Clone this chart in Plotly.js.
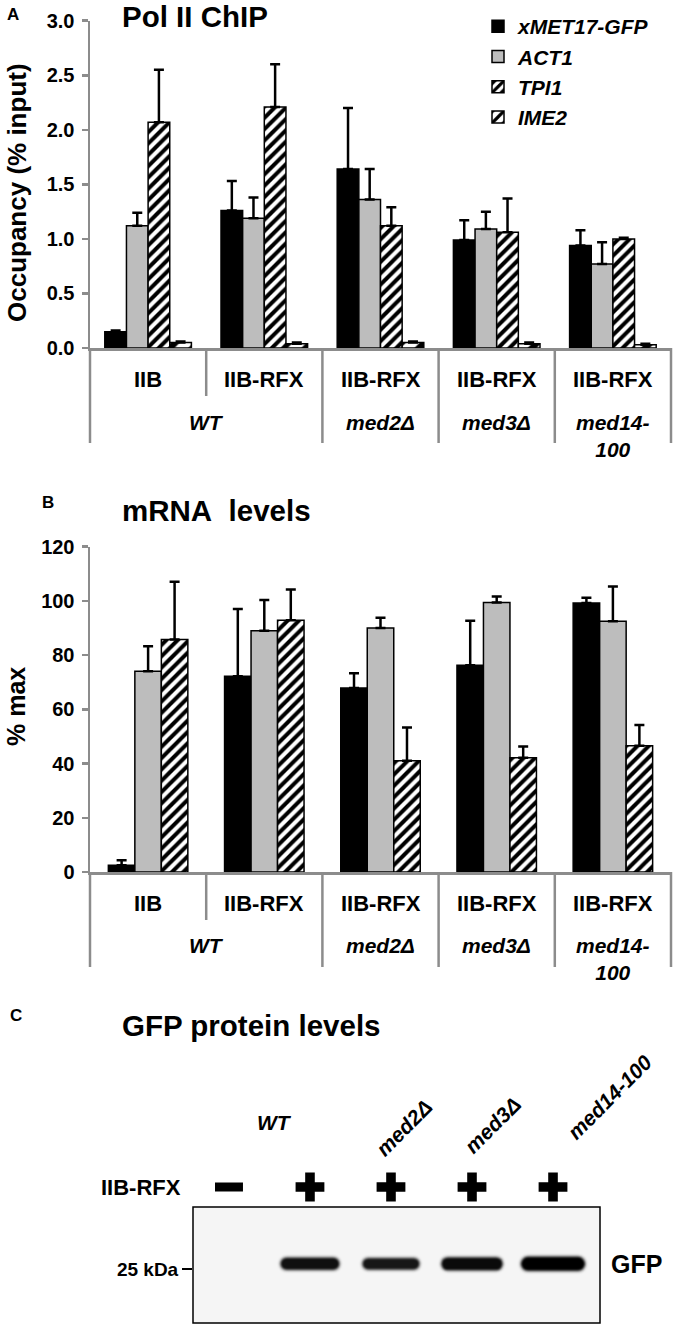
<!DOCTYPE html>
<html><head><meta charset="utf-8">
<script src="https://cdn.plot.ly/plotly-3.0.1.min.js"></script>
<style>
html,body{margin:0;padding:0;background:#fff}
#chart{width:674px;height:1325px}
.scatterlayer path.js-line{stroke-linecap:round;filter:blur(1.1px)}
</style>
</head><body><div id="chart"></div>
<script>
// ---------------- data ----------------
const promoters = ['IIB', 'IIB-RFX', 'IIB-RFX', 'IIB-RFX', 'IIB-RFX'];
const strains = ['WT', 'med2Δ', 'med3Δ', 'med14-<br>100'];
const strainSpan = [2, 1, 1, 1];
const genes = ['xMET17-GFP', 'ACT1', 'TPI1', 'IME2'];

// Panel A: Pol II ChIP, occupancy (% input)
const chipMET17    = [0.15, 1.26, 1.64, 0.99, 0.94];
const chipMET17Err = [0.01, 0.27, 0.56, 0.18, 0.14];
const chipACT1     = [1.12, 1.19, 1.36, 1.09, 0.77];
const chipACT1Err  = [0.12, 0.19, 0.28, 0.16, 0.20];
const chipTPI1     = [2.07, 2.21, 1.12, 1.06, 1.00];
const chipTPI1Err  = [0.48, 0.39, 0.17, 0.31, 0.01];
const chipIME2     = [0.05, 0.04, 0.05, 0.04, 0.03];
const chipIME2Err  = [0.01, 0.01, 0.01, 0.01, 0.01];

// Panel B: mRNA levels, % max
const mrnaMET17    = [2.5, 72.2, 67.9, 76.3, 99.2];
const mrnaMET17Err = [1.8, 24.8, 5.4, 16.4, 2.0];
const mrnaACT1     = [74.1, 89.0, 90.0, 99.4, 92.5];
const mrnaACT1Err  = [9.2, 11.3, 3.8, 2.2, 12.8];
const mrnaTPI1     = [85.8, 92.9, 41.0, 42.1, 46.6];
const mrnaTPI1Err  = [21.3, 11.3, 12.3, 4.2, 7.6];

// Panel C: GFP western blot
const lanes = [1, 2, 3, 4, 5];
const laneRFX = ['-', '+', '+', '+', '+'];
const laneStrain = ['WT', 'WT', 'med2Δ', 'med3Δ', 'med14-100'];
const gfpSignal = [0, 0.78, 0.70, 0.88, 1.0];

// ---------------- helpers ----------------
const W = 674, H = 1325;
const px = v => v / W;
const py = v => 1 - v / H;
const FONT = 'Liberation Sans, Arial, Helvetica, sans-serif';
const AX = '#8c8c8c';

const seriesStyle = [
  {color: '#000000'},
  {color: '#bdbdbd'},
  {color: '#ffffff', pattern: {shape: '/', fgcolor: '#000', bgcolor: '#fff', size: 8, solidity: 0.5, fillmode: 'replace'}},
  {color: '#ffffff', pattern: {shape: '/', fgcolor: '#000', bgcolor: '#fff', size: 16, solidity: 0.4, fillmode: 'replace'}}
];

const traces = [];
function addBars(vals, errs, xa, ya, w, legend) {
  const n = vals.length;
  vals.forEach((v, i) => {
    const st = seriesStyle[i];
    const marker = {color: st.color, line: {color: '#000', width: 1.5}};
    if (st.pattern) marker.pattern = st.pattern;
    traces.push({
      type: 'bar', name: genes[i], x: promoters.map((_, k) => k), y: v,
      xaxis: xa, yaxis: ya, width: w, offset: (i - n / 2) * w,
      marker: marker, showlegend: legend, hoverinfo: 'skip',
      error_y: {type: 'data', symmetric: false, array: errs[i], arrayminus: errs[i].map(() => 0),
                color: '#000', thickness: 2.5, width: 5}
    });
  });
}
addBars([chipMET17, chipACT1, chipTPI1, chipIME2], [chipMET17Err, chipACT1Err, chipTPI1Err, chipIME2Err], 'x', 'y', 0.1863, true);
addBars([mrnaMET17, mrnaACT1, mrnaTPI1], [mrnaMET17Err, mrnaACT1Err, mrnaTPI1Err], 'x2', 'y2', 0.228, false);

// blot bands
const bandY = 0.51;
lanes.forEach((L, i) => {
  const s = gfpSignal[i];
  if (!s) return;
  const t = 5 + 9 * s;
  const hw = ((40 + 24 * s) / 2 - t / 2) / 81;
  traces.push({type: 'scatter', mode: 'lines', x: [L - hw, L + hw], y: [bandY, bandY], xaxis: 'x3', yaxis: 'y3',
    line: {color: 'rgba(0,0,0,0.2)', width: t + 4}, showlegend: false, hoverinfo: 'skip'});
  traces.push({type: 'scatter', mode: 'lines', x: [L - hw, L + hw], y: [bandY, bandY], xaxis: 'x3', yaxis: 'y3',
    line: {color: 'rgba(0,0,0,' + (0.62 + 0.38 * s).toFixed(2) + ')', width: t}, showlegend: false, hoverinfo: 'skip'});
});
// +/- signs (own row axis y4 above the blot)
const plusLanes = lanes.filter((_, i) => laneRFX[i] === '+');
const minusLanes = lanes.filter((_, i) => laneRFX[i] === '-');
traces.push({type: 'scatter', mode: 'markers', x: plusLanes, y: plusLanes.map(() => 0.5), xaxis: 'x3', yaxis: 'y4',
  cliponaxis: false, marker: {symbol: 'cross', size: 24, color: '#000', line: {width: 0}}, showlegend: false, hoverinfo: 'skip'});
traces.push({type: 'scatter', mode: 'markers', x: minusLanes, y: minusLanes.map(() => 0.5), xaxis: 'x3', yaxis: 'y4',
  cliponaxis: false, marker: {symbol: 'line-ew', size: 20, color: '#000', line: {width: 9, color: '#000'}}, showlegend: false, hoverinfo: 'skip'});

// ---------------- layout ----------------
const shapes = [];
const ann = [];
const boldFont = (size, italic) => ({family: FONT, size: size, color: '#000', weight: 700, style: italic ? 'italic' : 'normal'});

function categoryDecor(xa, axisY) {
  const n = promoters.length;
  const strainOf = [];
  strainSpan.forEach((sp, j) => { for (let t = 0; t < sp; t++) strainOf.push(j); });
  for (let k = 0; k <= n; k++) {
    const long = k === 0 || k === n || strainOf[k - 1] !== strainOf[k];
    shapes.push({type: 'line', xref: xa + ' domain', yref: 'paper', x0: k / n, x1: k / n,
      y0: py(axisY), y1: py(axisY + (long ? 95 : 48)), line: {color: AX, width: 2.5}});
  }
  promoters.forEach((p, k) => ann.push({xref: xa, yref: 'paper', x: k, y: py(axisY + 31), text: p,
    showarrow: false, xanchor: 'center', yanchor: 'middle', font: boldFont(22, false)}));
  let start = 0;
  strains.forEach((s, j) => {
    const sp = strainSpan[j];
    ann.push({xref: xa, yref: 'paper', x: start + (sp - 1) / 2, y: py(axisY + 75 - 14.5), text: s,
      showarrow: false, xanchor: 'center', yanchor: 'top', font: boldFont(21, true)});
    start += sp;
  });
}
categoryDecor('x', 348);
categoryDecor('x2', 872);

// panel letters, titles, axis titles
ann.push({xref: 'paper', yref: 'paper', x: px(5), y: py(14), text: 'A', showarrow: false, xanchor: 'left', yanchor: 'middle', font: boldFont(17)});
ann.push({xref: 'paper', yref: 'paper', x: px(120), y: py(17), text: 'Pol II ChIP', showarrow: false, xanchor: 'left', yanchor: 'middle', font: boldFont(29.5)});
ann.push({xref: 'paper', yref: 'paper', x: px(40), y: py(502), text: 'B', showarrow: false, xanchor: 'left', yanchor: 'middle', font: boldFont(17)});
ann.push({xref: 'paper', yref: 'paper', x: px(120), y: py(510), text: 'mRNA\u00a0 levels', showarrow: false, xanchor: 'left', yanchor: 'middle', font: boldFont(29.5)});
ann.push({xref: 'paper', yref: 'paper', x: px(8), y: py(1015), text: 'C', showarrow: false, xanchor: 'left', yanchor: 'middle', font: boldFont(17)});
ann.push({xref: 'paper', yref: 'paper', x: px(120), y: py(1025), text: 'GFP protein levels', showarrow: false, xanchor: 'left', yanchor: 'middle', font: boldFont(29.5)});
ann.push({xref: 'paper', yref: 'paper', x: px(17), y: py(193), text: 'Occupancy (% input)', textangle: -90, showarrow: false, xanchor: 'center', yanchor: 'middle', font: boldFont(26)});
ann.push({xref: 'paper', yref: 'paper', x: px(16), y: py(707), text: '% max', textangle: -90, showarrow: false, xanchor: 'center', yanchor: 'middle', font: boldFont(25)});

// panel C labels
ann.push({xref: 'paper', yref: 'paper', x: px(183), y: py(1187), text: 'IIB-RFX', showarrow: false, xanchor: 'right', yanchor: 'middle', font: boldFont(22)});
ann.push({xref: 'paper', yref: 'paper', x: px(609), y: py(1264), text: 'GFP', showarrow: false, xanchor: 'left', yanchor: 'middle', font: boldFont(25)});
const strainLanes = {};
laneStrain.forEach((s, i) => { (strainLanes[s] = strainLanes[s] || []).push(lanes[i]); });
const rotShift = {'med2Δ': 13, 'med3Δ': 20, 'med14-100': 56};
const rotY = {'med2Δ': 1127, 'med3Δ': 1125, 'med14-100': 1097};
Object.keys(strainLanes).forEach(s => {
  const ls = strainLanes[s];
  const cx = ls.reduce((a, b) => a + b, 0) / ls.length;
  if (ls.length > 1) {
    ann.push({xref: 'x3', yref: 'paper', x: cx, xshift: 5, y: py(1122), text: s, showarrow: false,
      xanchor: 'center', yanchor: 'middle', font: boldFont(21, true)});
  } else {
    ann.push({xref: 'x3', yref: 'paper', x: cx, xshift: rotShift[s], y: py(rotY[s]), text: s, textangle: -45,
      showarrow: false, xanchor: 'center', yanchor: 'middle', font: boldFont(21, true)});
  }
});

// blot box
shapes.push({type: 'rect', xref: 'x3 domain', yref: 'y3 domain', x0: 0, x1: 1, y0: 0, y1: 1,
  fillcolor: '#f5f5f5', line: {color: '#000', width: 1.5}, layer: 'below'});

const catX = (dom) => ({domain: dom, range: [-0.5, 4.5], showline: true, linecolor: AX, linewidth: 2.5,
  showticklabels: false, ticks: '', showgrid: false, zeroline: false, fixedrange: true});
const valY = (dom, range, dtick, fmt, anchor) => ({domain: dom, range: range, dtick: dtick, tickformat: fmt,
  showline: true, linecolor: AX, linewidth: 2.5, ticks: 'outside', ticklen: 6, tickwidth: 2.5, tickcolor: AX,
  tickfont: boldFont(20), showgrid: false, zeroline: false, anchor: anchor, fixedrange: true, ticklabelstandoff: 3});

const layout = {
  width: W, height: H, margin: {l: 0, r: 0, t: 0, b: 0},
  paper_bgcolor: '#fff', plot_bgcolor: 'rgba(0,0,0,0)',
  barmode: 'overlay',
  font: {family: FONT, color: '#000'},
  xaxis: Object.assign(catX([px(90), px(671)]), {anchor: 'y'}),
  yaxis: valY([py(348), py(20.7)], [0, 3], 0.5, '.1f', 'x'),
  xaxis2: Object.assign(catX([px(90), px(671)]), {anchor: 'y2'}),
  yaxis2: valY([py(872), py(546.7)], [0, 120], 20, 'd', 'x2'),
  xaxis3: {domain: [px(193), px(600)], range: [0.556, 5.58], showline: false, showticklabels: false,
    ticks: '', showgrid: false, zeroline: false, anchor: 'y3', fixedrange: true},
  yaxis3: {domain: [py(1323), py(1207)], range: [0, 1], tickvals: [0.466], ticktext: ['25 kDa'],
    ticks: 'outside', ticklen: 10, tickwidth: 2.5, tickcolor: '#000', showline: false, showgrid: false,
    zeroline: false, tickfont: boldFont(19), anchor: 'x3', fixedrange: true},
  yaxis4: {domain: [py(1205), py(1169)], range: [0, 1], visible: false, anchor: 'x3', fixedrange: true},
  showlegend: true,
  legend: {x: px(478), y: py(6), xanchor: 'left', yanchor: 'top', bgcolor: 'rgba(0,0,0,0)',
    font: boldFont(21, true), tracegroupgap: 0, itemclick: false, itemdoubleclick: false},
  shapes: shapes,
  annotations: ann
};

Plotly.newPlot('chart', traces, layout, {displayModeBar: false, staticPlot: true});
</script>
</body></html>
